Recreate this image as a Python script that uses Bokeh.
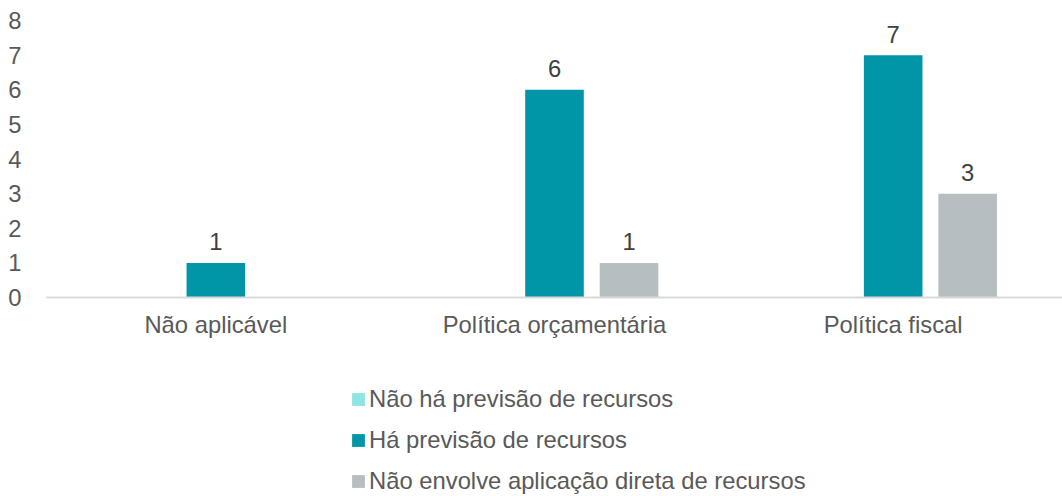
from bokeh.plotting import figure
from bokeh.models import ColumnDataSource, Range1d, FixedTicker, Legend, LegendItem
from bokeh.layouts import column
from bokeh.core.properties import value
from bokeh.embed import file_html
from bokeh.resources import INLINE

categories = ["Não aplicável", "Política orçamentária", "Política fiscal"]
series_names = ["Não há previsão de recursos", "Há previsão de recursos",
                "Não envolve aplicação direta de recursos"]
s1 = [0, 0, 0]
s2 = [1, 6, 7]
s3 = [0, 1, 3]
colors = ["#8FE4E4", "#0096A8", "#B6BEC1"]

FONT = "Liberation Sans"
FS = "23.8px"
TXT = "#595959"

p = figure(width=1062, height=340, output_backend="svg", toolbar_location=None,
           x_range=Range1d(0, 3.0), y_range=Range1d(0, 8))
p.min_border_left = 46
p.min_border_right = 0
p.min_border_top = 20
p.min_border_bottom = 42
p.outline_line_color = None
p.grid.visible = False

# legend-only figure (frames are aligned with p in the column)
p2 = figure(width=1062, height=156, output_backend="svg", toolbar_location=None,
            x_range=Range1d(100, 101), y_range=Range1d(100, 101))
p2.min_border_left = 46
p2.min_border_right = 0
p2.min_border_top = 0
p2.min_border_bottom = 0
p2.outline_line_color = None
p2.axis.visible = False
p2.grid.visible = False

offsets = [-0.22, 0.0, 0.22]
width = 0.173
leg_renderers = []
for vals, off, col in zip([s1, s2, s3], offsets, colors):
    xs = [i + 0.5 + off for i in range(len(categories))]
    src = ColumnDataSource(dict(x=xs, top=vals,
                                lab=[str(v) if v else "" for v in vals]))
    p.vbar(x="x", top="top", width=width, source=src, fill_color=col, line_color=None)
    p.text(x="x", y="top", text="lab", source=src, text_align="center",
           text_baseline="alphabetic", y_offset=-21, text_color="#404040",
           text_font_size=FS, text_font=value(FONT))
    # same data, outside p2's visible ranges: only used for the legend swatch
    leg_renderers.append(p2.vbar(x="x", top="top", width=width, source=src,
                                 fill_color=col, line_color=None))

# axes
p.yaxis.ticker = FixedTicker(ticks=list(range(0, 9)))
p.yaxis.axis_line_color = None
p.yaxis.major_tick_line_color = None
p.yaxis.minor_tick_line_color = None
p.yaxis.major_tick_out = 0
p.yaxis.major_tick_in = 0
p.yaxis.major_label_standoff = 25
p.yaxis.major_label_text_font = FONT
p.yaxis.major_label_text_font_size = FS
p.yaxis.major_label_text_color = TXT

p.xaxis.ticker = FixedTicker(ticks=[i + 0.5 for i in range(len(categories))])
p.xaxis.major_label_overrides = {i + 0.5: c for i, c in enumerate(categories)}
p.xaxis.axis_line_color = "#D9D9D9"
p.xaxis.axis_line_width = 2
p.xaxis.major_tick_line_color = None
p.xaxis.minor_tick_line_color = None
p.xaxis.major_tick_out = 0
p.xaxis.major_tick_in = 0
p.xaxis.major_label_standoff = 13
p.xaxis.major_label_text_font = FONT
p.xaxis.major_label_text_font_size = FS
p.xaxis.major_label_text_color = TXT

legend = Legend(items=[LegendItem(label=n, renderers=[r]) for n, r in zip(series_names, leg_renderers)],
                location=(304, 1), orientation="vertical")
legend.label_text_font = FONT
legend.label_text_font_size = FS
legend.label_text_color = TXT
legend.glyph_width = 16
legend.glyph_height = 16
legend.label_standoff = 3
legend.label_height = 16
legend.spacing = 13
legend.padding = 0
legend.margin = 0
legend.border_line_color = None
legend.background_fill_alpha = 0
p2.add_layout(legend, "center")

layout = column(p, p2, spacing=0)
open("out.html", "w").write(file_html(layout, INLINE))
